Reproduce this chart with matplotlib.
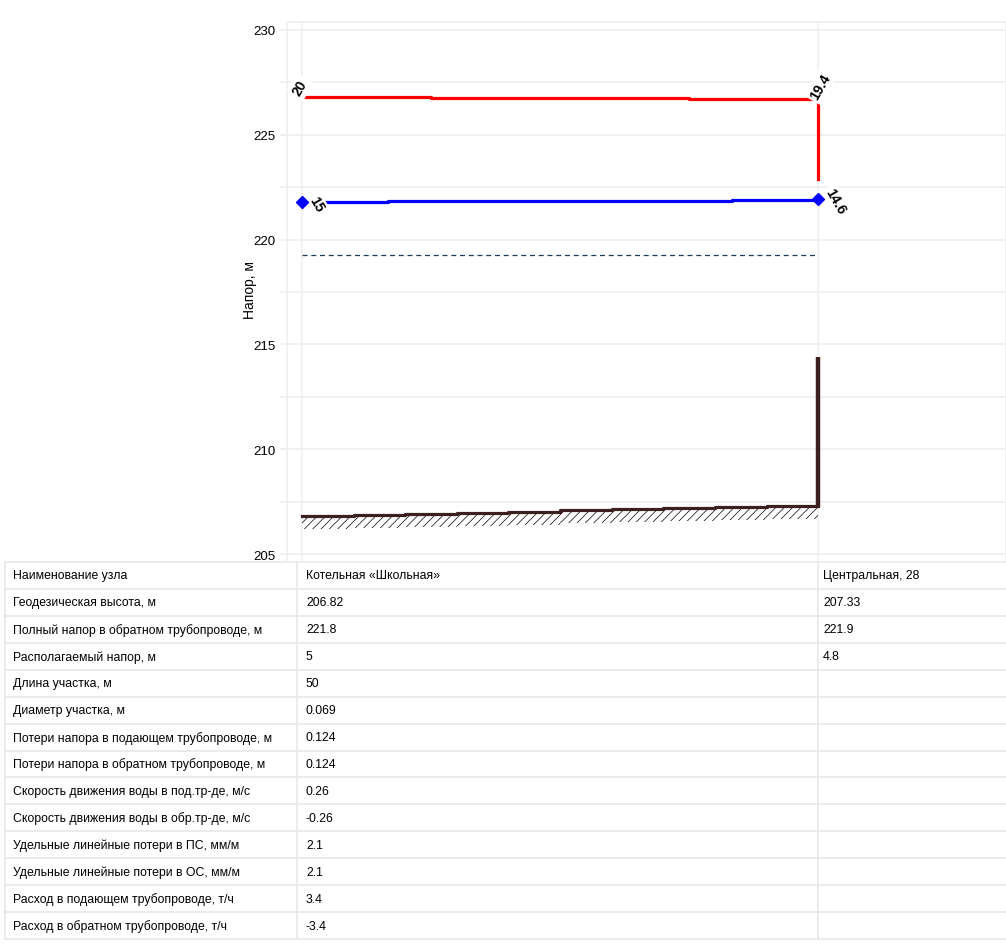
import numpy as np
import matplotlib
matplotlib.use('Agg')
import matplotlib.pyplot as plt

plt.rcParams['font.family'] = ['Liberation Sans', 'DejaVu Sans']
plt.rcParams['hatch.linewidth'] = 0.5

# узлы
node_names = ['Котельная «Школьная»', 'Центральная, 28']
node_x = [0, 50]
geo_h = [206.82, 207.33]
ret_full = [221.8, 221.9]
avail_h = [5, 4.8]

# пьезометрические линии (ступени)
sup_x = [0, 12.5, 37.5, 50]
sup_h = [226.80, 226.76, 226.70, 226.70]
ret_x = [0, 8.3, 25, 41.7, 50]
ret_h = [221.79, 221.83, 221.86, 221.90, 221.93]
ground_x = [0, 5, 10, 15, 20, 25, 30, 35, 40, 45, 50]
ground_h = [206.82, 206.87, 206.92, 206.97, 207.02, 207.08, 207.13, 207.18, 207.23, 207.28, 207.28]
static_h = 219.27
red_drop = [226.70, 222.9]
building_top = 214.4

sup_press = [20, 19.4]
ret_press = [15, 14.6]

# таблица
row_names = ['Наименование узла', 'Геодезическая высота, м',
             'Полный напор в обратном трубопроводе, м', 'Располагаемый напор, м',
             'Длина участка, м', 'Диаметр участка, м',
             'Потери напора в подающем трубопроводе, м',
             'Потери напора в обратном трубопроводе, м',
             'Скорость движения воды в под.тр-де, м/с',
             'Скорость движения воды в обр.тр-де, м/с',
             'Удельные линейные потери в ПС, мм/м',
             'Удельные линейные потери в ОС, мм/м',
             'Расход в подающем трубопроводе, т/ч',
             'Расход в обратном трубопроводе, т/ч']
seg_values = ['50', '0.069', '0.124', '0.124', '0.26', '-0.26', '2.1', '2.1', '3.4', '-3.4']

W, H = 1006, 945
fig = plt.figure(figsize=(W / 100, H / 100), dpi=100)

grid_c = '#eeeeee'
ax_l, ax_r, ax_t, ax_b = 287, 1006, 23, 563
ax = fig.add_axes([ax_l / W, (H - ax_b) / H, (ax_r - ax_l) / W, (ax_b - ax_t) / H])
ax.set_xlim(-1.45, 68.2)
ax.set_ylim(204.62, 230.38)

ax.set_yticks([205, 210, 215, 220, 225, 230])
ax.set_yticks([207.5, 212.5, 217.5, 222.5, 227.5], minor=True)
ax.set_xticks(node_x)
ax.set_xticklabels([])
ax.tick_params(axis='x', length=0)
ax.tick_params(axis='y', which='both', length=5, width=1.1, color=grid_c,
               labelsize=9.5, pad=3)
ax.grid(True, which='both', color=grid_c, linewidth=1.1)
ax.set_axisbelow(True)
for s in ax.spines.values():
    s.set_color(grid_c)
    s.set_linewidth(1.1)

ax.set_ylabel('Напор, м', fontsize=10)
ax.yaxis.set_label_coords((257 - ax_l) / (ax_r - ax_l), (ax_b - 290) / (ax_b - ax_t))

# земля
brown = '#3d1f1f'
gx = np.array(ground_x, dtype=float)
gh = np.array(ground_h)
ax.fill_between(gx, gh, gh - 0.62, step='post', facecolor='none',
                edgecolor='black', hatch='////', linewidth=0, zorder=2)
ax.step(gx, gh, where='post', color=brown, lw=2.3, zorder=3)
ax.plot([node_x[1], node_x[1]], [ground_h[-1], building_top], color=brown,
        lw=3.2, solid_capstyle='butt', zorder=3)

# статический напор
ax.plot(node_x, [static_h, static_h], color='#1e3a5c', lw=0.9,
        dashes=(4, 3), zorder=3)

# подающий / обратный
ax.step(sup_x, sup_h, where='post', color='#ff0000', lw=2.3, zorder=4)
ax.plot([node_x[1], node_x[1]], red_drop, color='#ff0000', lw=2.3, zorder=4)
ax.step(ret_x, ret_h, where='post', color='#0000ff', lw=2.3, zorder=4)
ax.plot([ret_x[0], ret_x[-1]], [ret_h[0], ret_h[-1]], ls='none', marker='D',
        ms=6, color='#0000ff', zorder=7)

box = dict(boxstyle='square,pad=0.2', fc='white', ec='none')
offs_sup = [(-2, 10), (2, 13)]
offs_ret = [(14, -2), (17, -2)]
for i in range(2):
    ax.annotate(f'{sup_press[i]:g}', (node_x[i], sup_h[0] if i == 0 else sup_h[-1]),
                xytext=offs_sup[i], textcoords='offset pixels', rotation=60,
                rotation_mode='anchor', ha='center', va='center', fontsize=10,
                fontweight='bold', bbox=box, zorder=6)
    ax.annotate(f'{ret_press[i]:g}', (node_x[i], ret_h[0] if i == 0 else ret_h[-1]),
                xytext=offs_ret[i], textcoords='offset pixels', rotation=-60,
                rotation_mode='anchor', ha='center', va='center', fontsize=10,
                fontweight='bold', bbox=box, zorder=6)

# таблица
tab = fig.add_axes([0, 0, 1, 1], zorder=-1)
tab.set_xlim(0, W)
tab.set_ylim(H, 0)
tab.axis('off')
t_top, t_bot = 563, 940
n = len(row_names)
rh = (t_bot - t_top) / n
tab_c = '#e8e8e8'
for i in range(n + 1):
    tab.plot([5, W], [t_top + i * rh] * 2, color=tab_c, lw=1.2)
for xv in [5, 297, 818]:
    tab.plot([xv, xv], [t_top, t_bot], color=tab_c, lw=1.2)

col1 = [node_names[0], f'{geo_h[0]:g}', f'{ret_full[0]:g}', f'{avail_h[0]:g}'] + seg_values
col2 = [node_names[1], f'{geo_h[1]:g}', f'{ret_full[1]:g}', f'{avail_h[1]:g}']
for i, name in enumerate(row_names):
    yc = t_top + (i + 0.5) * rh
    tab.text(13, yc, name, fontsize=8.8, va='center', ha='left')
    tab.text(306, yc, col1[i], fontsize=8.8, va='center', ha='left')
    if i < len(col2):
        tab.text(823, yc, col2[i], fontsize=8.8, va='center', ha='left')

fig.savefig('out.png', dpi=100)
